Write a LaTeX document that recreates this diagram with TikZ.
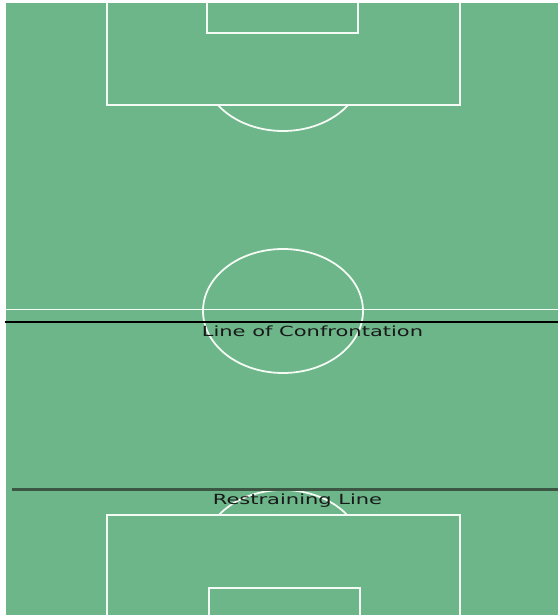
\documentclass[tikz,border=0pt]{standalone}
\usepackage{fontspec}
\setmainfont{DejaVu Sans}
\usepackage{xcolor}
\definecolor{pitchGreen}{RGB}{108,182,137}
\definecolor{pitchWhite}{RGB}{244,250,244}
\definecolor{restrainGray}{RGB}{60,86,68}
\usetikzlibrary{positioning}
\tikzset{
  pitchline/.style={draw=pitchWhite,line width=1.8pt},
  confrontline/.style={draw=black,line width=1.8pt},
  restrainline/.style={draw=restrainGray,line width=3pt},
  linelabel/.style={font=\fontsize{14}{16}\selectfont,text=black!90,
    inner sep=0pt,xscale=1.5}
}

\begin{document}
\begin{tikzpicture}[x=1pt,y=-1pt]
  \useasboundingbox (0,0) rectangle (558,616);
  \fill[pitchGreen] (5.5,3) rectangle (558,615);
  % top half
  \draw[pitchline] (107,3) |- (460,105) -- (460,3);
  \draw[pitchline] (207,3) |- (358,33) -- (358,3);
  \begin{scope}
    \clip (6,105) rectangle (558,250);
    \draw[pitchline] (283,69) ellipse[x radius=80,y radius=62];
  \end{scope}
  % halfway line and centre circle
  \draw[pitchline] (5.5,309.5) -- (558,309.5);
  \draw[pitchline] (283,311) ellipse[x radius=80,y radius=62];
  % bottom half
  \draw[pitchline] (107,615) |- (460,515) -- (460,615);
  \draw[pitchline] (209,615) |- (360,588) -- (360,615);
  \begin{scope}
    \clip (6,400) rectangle (558,515);
    \draw[pitchline] (283,552) ellipse[x radius=80,y radius=62];
  \end{scope}
  % the two lines
  \coordinate (confrontW) at (5,322);
  \coordinate (confrontE) at (558,322);
  \coordinate (restrainW) at (12,489);
  \coordinate (restrainE) at (558,489);
  \draw[confrontline] (confrontW) -- (confrontE);
  \draw[restrainline] (restrainW) -- (restrainE);
  \node[linelabel] (confront) at (312.5,331) {Line of Confrontation};
  \node[linelabel] (restrain) at (297.5,501) {Restraining Line};
\end{tikzpicture}
\end{document}
